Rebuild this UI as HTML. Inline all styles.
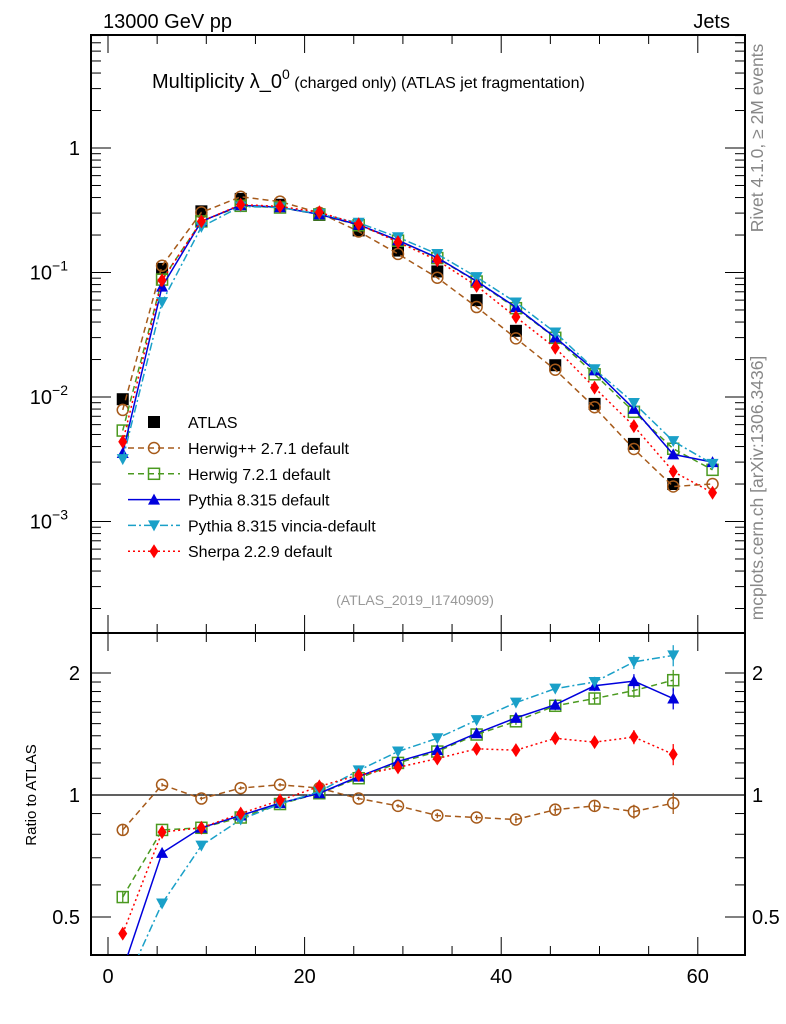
<!DOCTYPE html>
<html><head><meta charset="utf-8"><style>body{margin:0;background:#fff}svg{display:block;font-family:"Liberation Sans",sans-serif}</style></head>
<body>
<svg id="c" width="786" height="1024"></svg>
<script>
const bins=[1.5,5.5,9.5,13.5,17.5,21.5,25.5,29.5,33.5,37.5,41.5,45.5,49.5,53.5,57.5];
const lastBin=61.5;
const atlas=[0.0096,0.107,0.31,0.39,0.35,0.29,0.218,0.15,0.102,0.06,0.034,0.018,0.0088,0.0042,0.002];
const rHerwigpp=[0.82,1.06,0.98,1.04,1.06,1.04,0.98,0.94,0.89,0.88,0.87,0.92,0.94,0.91,0.955];
const rHerwig7=[0.56,0.82,0.83,0.88,0.95,1.01,1.10,1.2,1.28,1.41,1.52,1.66,1.73,1.81,1.92];
const rPythia=[0.37,0.72,0.83,0.89,0.955,1.01,1.11,1.21,1.29,1.42,1.55,1.67,1.86,1.91,1.73];
const rVincia=[0.33,0.54,0.75,0.87,0.95,1.02,1.15,1.28,1.38,1.53,1.69,1.83,1.90,2.13,2.21];
const rSherpa=[0.455,0.81,0.83,0.90,0.97,1.05,1.12,1.17,1.23,1.30,1.29,1.38,1.35,1.39,1.26];
const lastVals=[0.002,0.0026,0.003,0.0029,0.0017];
const ratioErr=[0.03,0.01,0.01,0.01,0.01,0.01,0.01,0.01,0.015,0.015,0.02,0.025,0.03,0.04,0.06];

const S=document.getElementById('c'),NS='http://www.w3.org/2000/svg';
function el(t,a,p){const e=document.createElementNS(NS,t);for(const k in a)e.setAttribute(k,a[k]);(p||S).appendChild(e);return e;}
const X=v=>108+9.83*v;
const Y=v=>148-124.5*Math.log10(v);
const R=v=>795-405.3*Math.log10(v);
const L=91,Rt=745,T=35,M=633,B=955;

let f=el('rect',{x:L,y:T,width:Rt-L,height:M-T,fill:'none',stroke:'#000','stroke-width':2});

f=el('rect',{x:L,y:M,width:Rt-L,height:B-M,fill:'none',stroke:'#000','stroke-width':2});


for(let v=0;v<=64;v+=5){const big=v%20==0;for(const [yb,ytop] of [[M,T],[B,M]]){
 el('line',{x1:X(v),x2:X(v),y1:yb,y2:yb-(big?18:9),stroke:'#000'});
 el('line',{x1:X(v),x2:X(v),y1:ytop,y2:ytop+(big?18:9),stroke:'#000'});}}
[0,20,40,60].forEach(v=>{const t=el('text',{x:X(v),y:983,'font-size':20,'text-anchor':'middle'});t.textContent=v;
 });

for(let d=-4;d<=0;d++)for(let m=1;m<10;m++){const v=m*Math.pow(10,d);const y=Y(v);if(y<T||y>M)continue;
 const len=m==1?20:10;el('line',{x1:L,x2:L+len,y1:y,y2:y,stroke:'#000'});el('line',{x1:Rt,x2:Rt-len,y1:y,y2:y,stroke:'#000'});}
function ylab(y,base,exp){const t=el('text',{x:80,y:y+7,'font-size':20,'text-anchor':'end'});
 if(exp===null){t.textContent=base;return;}t.setAttribute('x',68);t.textContent=base;const s=el('tspan',{dy:-9,'font-size':14},t);s.textContent=exp;}
ylab(Y(1),'1',null);ylab(Y(0.1),'10','−1');ylab(Y(0.01),'10','−2');ylab(Y(0.001),'10','−3');
[0.4,0.5,0.6,0.7,0.8,0.9,1,2].forEach(v=>{const y=R(v);if(y>B)return;const big=(v==0.5||v==1||v==2);const len=big?20:10;
 el('line',{x1:L,x2:L+len,y1:y,y2:y,stroke:'#000'});el('line',{x1:Rt,x2:Rt-len,y1:y,y2:y,stroke:'#000'});});
for(let v=1.1;v<2;v+=0.1){const y=R(v);el('line',{x1:L,x2:L+10,y1:y,y2:y,stroke:'#000'});el('line',{x1:Rt,x2:Rt-10,y1:y,y2:y,stroke:'#000'});}
[['2',2],['1',1],['0.5',0.5]].forEach(([s,v])=>{let t=el('text',{x:80,y:R(v)+7,'font-size':20,'text-anchor':'end'});t.textContent=s;
 
 t=el('text',{x:752,y:R(v)+7,'font-size':20});t.textContent=s;});
el('line',{x1:L,x2:Rt,y1:R(1),y2:R(1),stroke:'#000','stroke-width':1.3});

const series=[
 {n:'herwigpp',r:rHerwigpp,c:'#a65a1a',dash:'6,4',m:'circle',lab:'Herwig++ 2.7.1 default'},
 {n:'herwig7',r:rHerwig7,c:'#4b9a20',dash:'6,4',m:'square',lab:'Herwig 7.2.1 default'},
 {n:'pythia',r:rPythia,c:'#0000dd',dash:'',m:'tri',lab:'Pythia 8.315 default'},
 {n:'vincia',r:rVincia,c:'#1aa0c8',dash:'8,3,2,3',m:'itri',lab:'Pythia 8.315 vincia-default'},
 {n:'sherpa',r:rSherpa,c:'#ff0000',dash:'2,3',m:'diamond',lab:'Sherpa 2.2.9 default'}];
function marker(kind,x,y,c,g){
 if(kind=='circle')return el('circle',{cx:x,cy:y,r:5.5,fill:'none',stroke:c,'stroke-width':1.5},g);
 if(kind=='square')return el('rect',{x:x-5.5,y:y-5.5,width:11,height:11,fill:'none',stroke:c,'stroke-width':1.5},g);
 if(kind=='tri')return el('polygon',{points:`${x},${y-6} ${x-6},${y+5} ${x+6},${y+5}`,fill:c},g);
 if(kind=='itri')return el('polygon',{points:`${x},${y+6} ${x-6},${y-5} ${x+6},${y-5}`,fill:c},g);
 if(kind=='diamond')return el('polygon',{points:`${x},${y-7} ${x-4.5},${y} ${x},${y+7} ${x+4.5},${y}`,fill:c},g);
 return el('rect',{x:x-6,y:y-6,width:12,height:12,fill:c},g);
}
const cm=el('clipPath',{id:'cm'});el('rect',{x:L,y:T,width:Rt-L,height:M-T},cm);
const cr=el('clipPath',{id:'cr'});el('rect',{x:L,y:M,width:Rt-L,height:B-M},cr);
const ga=el('g',{});
atlas.forEach((v,i)=>{const m=marker('sq',X(bins[i]),Y(v),'#000',ga);});
series.forEach((s,si)=>{
 const g=el('g',{'clip-path':'url(#cm)'});
 const pts=bins.map((b,i)=>[X(b),Y(s.r[i]*atlas[i])]);pts.push([X(lastBin),Y(lastVals[si])]);
 el('polyline',{points:pts.map(p=>p.join(',')).join(' '),fill:'none',stroke:s.c,'stroke-width':1.5,'stroke-dasharray':s.dash},g);
 pts.forEach(p=>marker(s.m,p[0],p[1],s.c,g));
 const gr=el('g',{'clip-path':'url(#cr)'});
 const rp=bins.map((b,i)=>[X(b),R(s.r[i])]);
 el('polyline',{points:rp.map(p=>p.join(',')).join(' '),fill:'none',stroke:s.c,'stroke-width':1.5,'stroke-dasharray':s.dash},gr);
 rp.forEach((p,i)=>{const e=ratioErr[i]*s.r[i];el('line',{x1:p[0],x2:p[0],y1:R(s.r[i]+e),y2:R(s.r[i]-e),stroke:s.c,'stroke-width':1.3},gr);marker(s.m,p[0],p[1],s.c,gr);});
});
const lg=el('g',{});
marker('sq',154,422,'#000',lg);let t=el('text',{x:188,y:428,'font-size':16},lg);t.textContent='ATLAS';
series.forEach((s,i)=>{const y=448+i*25.8;const e=el('g',{},lg);
 el('line',{x1:128,x2:180,y1:y,y2:y,stroke:s.c,'stroke-width':1.5,'stroke-dasharray':s.dash},e);marker(s.m,154,y,s.c,e);
 const tx=el('text',{x:188,y:y+6,'font-size':16},e);tx.textContent=s.lab;});
function txt(s,a,name){const e=el('text',a);e.textContent=s;return e;}
txt('13000 GeV pp',{x:103,y:28,'font-size':20},'beam-label');
txt('Jets',{x:730,y:28,'font-size':20,'text-anchor':'end'},'process-label');
const ti=txt('Multiplicity λ_0',{x:152,y:88,'font-size':20},'plot-title');
let sp=el('tspan',{dy:-9,'font-size':14},ti);sp.textContent='0';
sp=el('tspan',{dy:9,'font-size':16},ti);sp.textContent=' (charged only) (ATLAS jet fragmentation)';
txt('(ATLAS_2019_I1740909)',{x:415,y:605,'font-size':14,fill:'#999','text-anchor':'middle'},'analysis-id');
txt('Rivet 4.1.0, ≥ 2M events',{x:0,y:0,'font-size':17.5,fill:'#888','text-anchor':'middle',transform:'translate(763,138) rotate(-90)'},'rivet-label');
txt('mcplots.cern.ch [arXiv:1306.3436]',{x:0,y:0,'font-size':17.5,fill:'#888','text-anchor':'middle',transform:'translate(763,488) rotate(-90)'},'mcplots-label');
txt('Ratio to ATLAS',{x:0,y:0,'font-size':15,'text-anchor':'middle',transform:'translate(36,795) rotate(-90)'},'ratio-axis-title');
</script>
</body></html>
